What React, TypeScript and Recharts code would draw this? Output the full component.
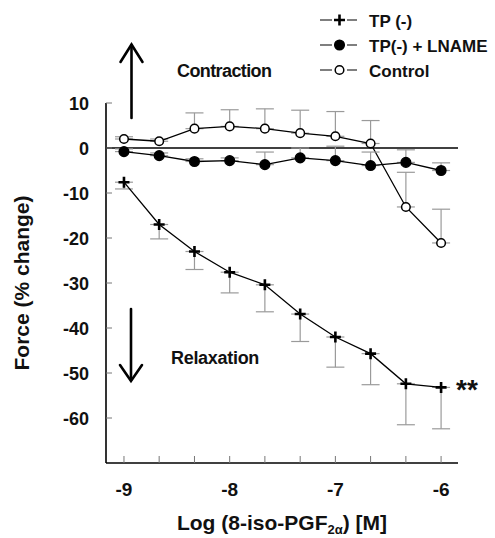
import React from 'react';
import { ErrorBar, Label, Line, LineChart, ReferenceLine, XAxis, YAxis } from 'recharts';

// Concentración (log M) y respuestas medias con su error (barra en un solo sentido)
const logConc = [-9, -8.667, -8.333, -8, -7.667, -7.333, -7, -6.667, -6.333, -6];
const tpMinus = [-7.6, -17.0, -23.0, -27.6, -30.4, -36.9, -42.0, -45.7, -52.4, -53.2];
const tpMinusErr = [1.5, 3.2, 4.0, 4.6, 6.0, 6.1, 6.7, 6.9, 9.1, 9.2];
const tpLname = [-0.8, -1.7, -3.0, -2.8, -3.7, -2.2, -2.8, -3.9, -3.2, -5.0];
const tpLnameErr = [0.6, 0.6, 0.6, 0.6, 2.8, 2.2, 3.2, 3.0, 2.8, 1.7];
const control = [2.0, 1.5, 4.3, 4.8, 4.3, 3.3, 2.6, 1.0, -13.1, -21.1];
const controlErr = [0.5, 0.5, 3.5, 3.7, 4.4, 5.1, 5.5, 5.1, 7.7, 7.5];

const yTicks = [10, 0, -10, -20, -30, -40, -50, -60];
const legendLabels = ['TP (-)', 'TP(-) + LNAME', 'Control'];

const FONT = '"Liberation Sans", Arial, sans-serif';
const ERR = '#9a9a9a';

const data = logConc.map((x, i) => ({
  x,
  tp: tpMinus[i],
  tpErr: [tpMinusErr[i], 0],
  lname: tpLname[i],
  lnameErr: [0, tpLnameErr[i]],
  control: control[i],
  controlErr: [0, controlErr[i]],
}));

function Cross({ cx, cy }: { cx?: number; cy?: number }) {
  if (cx == null || cy == null) return null;
  return (
    <path
      d={`M${cx - 5.5},${cy}H${cx + 5.5}M${cx},${cy - 5.5}V${cy + 5.5}`}
      stroke="#000"
      strokeWidth={2.6}
      fill="none"
    />
  );
}

function Circle({ cx, cy, filled }: { cx?: number; cy?: number; filled: boolean }) {
  if (cx == null || cy == null) return null;
  return (
    <circle
      cx={cx}
      cy={cy}
      r={filled ? 4.8 : 4.3}
      fill={filled ? '#000' : '#fff'}
      stroke="#000"
      strokeWidth={1.5}
    />
  );
}

function XTick({ x, y, payload }: any) {
  const v = payload.value as number;
  const entero = Math.abs(v - Math.round(v)) < 0.01;
  return (
    <g>
      <line x1={x} x2={x} y1={y} y2={y - 7} stroke="#777" strokeWidth={1} />
      {entero && (
        <text
          x={x}
          y={y + 33}
          textAnchor="middle"
          fontFamily={FONT}
          fontWeight="bold"
          fontSize={19}
          fill="#111"
        >
          {Math.round(v)}
        </text>
      )}
    </g>
  );
}

function YTick({ x, y, payload }: any) {
  return (
    <g>
      <line x1={x} x2={x + 6} y1={y} y2={y} stroke="#777" strokeWidth={1} />
      <text
        x={x - 17}
        y={y + 6.5}
        textAnchor="end"
        fontFamily={FONT}
        fontWeight="bold"
        fontSize={18}
        fill="#111"
      >
        {payload.value}
      </text>
    </g>
  );
}

function LeyendaYAnotaciones() {
  const filas = [20, 45, 70];
  return (
    <svg
      width={495}
      height={538}
      style={{ position: 'absolute', left: 0, top: 0, pointerEvents: 'none' }}
    >
      {filas.map((cy, i) => (
        <g key={i}>
          <line x1={320} x2={332} y1={cy} y2={cy} stroke="#555" strokeWidth={1.5} />
          <line x1={347} x2={357} y1={cy} y2={cy} stroke="#555" strokeWidth={1.5} />
          {i === 0 && <Cross cx={339.5} cy={cy} />}
          {i === 1 && <Circle cx={339.5} cy={cy} filled />}
          {i === 2 && <Circle cx={339.5} cy={cy} filled={false} />}
          <text x={369} y={cy + 7} fontFamily={FONT} fontWeight="bold" fontSize={17} fill="#111">
            {legendLabels[i]}
          </text>
        </g>
      ))}

      {/* flechas */}
      <g stroke="#000" strokeWidth={2.6} fill="none" strokeLinecap="round">
        <line x1={131.5} x2={131.5} y1={45} y2={118} />
        <polyline points="120.5,62 131.5,44.5 142.5,62" />
        <line x1={131} x2={131} y1={309} y2={380} />
        <polyline points="120,365 131,381 142,365" />
      </g>
      <text x={177} y={77} fontFamily={FONT} fontWeight="bold" fontSize={18} letterSpacing={-0.6} fill="#111">
        Contraction
      </text>
      <text x={171} y={364} fontFamily={FONT} fontWeight="bold" fontSize={18} letterSpacing={-0.3} fill="#111">
        Relaxation
      </text>
      <text x={456} y={399} fontFamily={FONT} fontWeight="bold" fontSize={28} fill="#111">
        **
      </text>
    </svg>
  );
}

export default function App() {
  return (
    <div style={{ position: 'absolute', left: 0, top: 0, width: 495, height: 538, background: '#fff' }}>
      <LineChart
        width={495}
        height={538}
        data={data}
        margin={{ top: 103, right: 37, left: 0, bottom: 0 }}
      >
        <XAxis
          dataKey="x"
          type="number"
          domain={[-9.17, -5.84]}
          ticks={logConc}
          interval={0}
          height={75}
          tickSize={0}
          tickMargin={0}
          tickLine={false}
          axisLine={{ stroke: '#000', strokeWidth: 1.6 }}
          tick={<XTick />}
        >
          <Label
            content={() => (
              <text
                x={282}
                y={530}
                textAnchor="middle"
                fontFamily={FONT}
                fontWeight="bold"
                fontSize={21}
                fill="#111"
              >
                Log (8-iso-PGF
                <tspan fontSize={13} dy={4}>2α</tspan>
                <tspan dy={-4}>) [M]</tspan>
              </text>
            )}
          />
        </XAxis>
        <YAxis
          type="number"
          domain={[-70, 10]}
          ticks={yTicks}
          interval={0}
          width={106}
          tickSize={0}
          tickMargin={0}
          tickLine={false}
          axisLine={{ stroke: '#000', strokeWidth: 1.6 }}
          tick={<YTick />}
        >
          <Label
            content={() => (
              <text
                x={29}
                y={283}
                transform="rotate(-90 29 283)"
                textAnchor="middle"
                fontFamily={FONT}
                fontWeight="bold"
                fontSize={21}
                fill="#111"
              >
                Force (% change)
              </text>
            )}
          />
        </YAxis>
        <ReferenceLine y={0} stroke="#000" strokeWidth={1.3} />
        <Line
          dataKey="control"
          stroke="#000"
          strokeWidth={1.3}
          isAnimationActive={false}
          dot={(p: any) => <Circle key={p.index} cx={p.cx} cy={p.cy} filled={false} />}
        >
          <ErrorBar dataKey="controlErr" width={9} stroke={ERR} strokeWidth={1.2} direction="y" />
        </Line>
        <Line
          dataKey="lname"
          stroke="#000"
          strokeWidth={1.3}
          isAnimationActive={false}
          dot={(p: any) => <Circle key={p.index} cx={p.cx} cy={p.cy} filled />}
        >
          <ErrorBar dataKey="lnameErr" width={9} stroke={ERR} strokeWidth={1.2} direction="y" />
        </Line>
        <Line
          dataKey="tp"
          stroke="#000"
          strokeWidth={1.3}
          isAnimationActive={false}
          dot={(p: any) => <Cross key={p.index} cx={p.cx} cy={p.cy} />}
        >
          <ErrorBar dataKey="tpErr" width={9} stroke={ERR} strokeWidth={1.2} direction="y" />
        </Line>
      </LineChart>
      <LeyendaYAnotaciones />
    </div>
  );
}
